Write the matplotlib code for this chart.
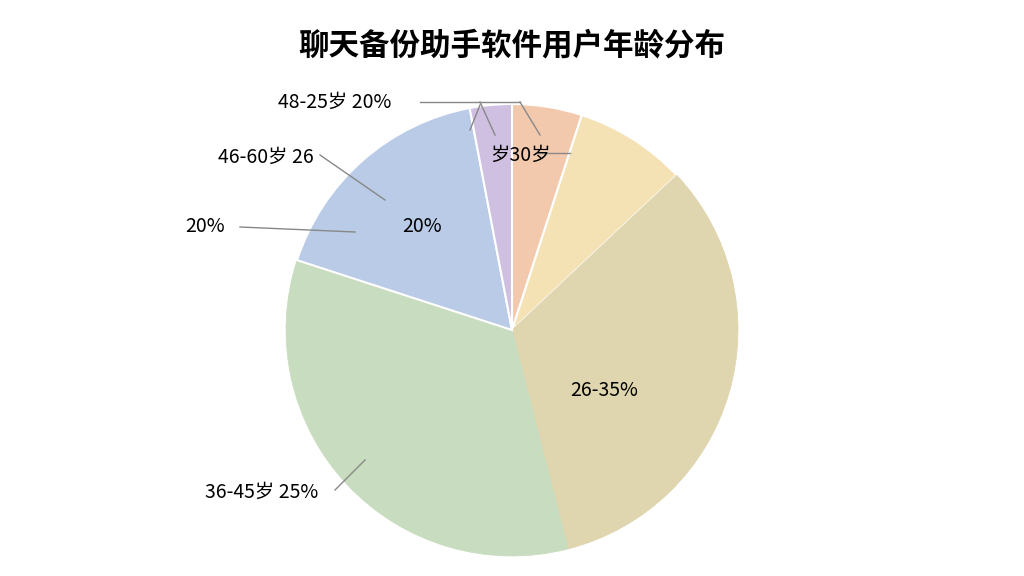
import matplotlib
matplotlib.use("Agg")
import matplotlib.pyplot as plt

plt.rcParams['font.family'] = ['Noto Sans CJK SC', 'DejaVu Sans']

labels = ["<18岁", "18-25岁", "26-35岁", "36-45岁", "46-60岁", ">60岁"]
values = [5, 8, 33, 34, 17, 3]
colors = ["#f3c9ad", "#f4e2b4", "#dfd5ae", "#c8dcbf", "#b9cbe6", "#cfbfe0"]

fig = plt.figure(figsize=(10.24, 5.76), dpi=100)
R = 226
pax = fig.add_axes([(512-R)/1024, 1-(330+R)/576, 2*R/1024, 2*R/576])
wedges, _ = pax.pie(values, colors=colors, startangle=90, counterclock=False, radius=1,
        wedgeprops=dict(edgecolor='white', linewidth=1.5))
wedges[2].set_edgecolor(colors[2]); wedges[3].set_edgecolor(colors[3])
wedges[2].set_linewidth(0.5); wedges[3].set_linewidth(0.5)
pax.set_xlim(-1, 1); pax.set_ylim(-1, 1)
pax.set_aspect('auto')
pax.axis('off')

ax = fig.add_axes([0, 0, 1, 1])
ax.set_xlim(0, 1024); ax.set_ylim(576, 0); ax.axis('off')
ax.patch.set_alpha(0)

ax.text(512, 45, "聊天备份助手软件用户年龄分布", ha='center', va='center', fontsize=22, fontweight='bold')
txt = [("48-25岁 20%", 278, 102), ("岁30岁", 490, 155),
       ("46-60岁 26", 218, 157), ("20%", 185, 227),
       ("20%", 402, 227), ("26-35%", 570, 390),
       ("36-45岁 25%", 205, 492)]
for t, x, y in txt:
    ax.text(x, y, t, ha='left', va='center', fontsize=14)
lines = [((420, 102), (520, 102)), ((520, 102), (540, 135)), ((480, 102), (495, 135)),
         ((320, 155), (385, 200)), ((240, 227), (355, 232)), ((480, 105), (470, 130)),
         ((535, 153), (570, 153)), ((335, 490), (365, 460))]
for (x0, y0), (x1, y1) in lines:
    ax.plot([x0, x1], [y0, y1], color='#888888', lw=1)
fig.savefig("out.png", dpi=100)
